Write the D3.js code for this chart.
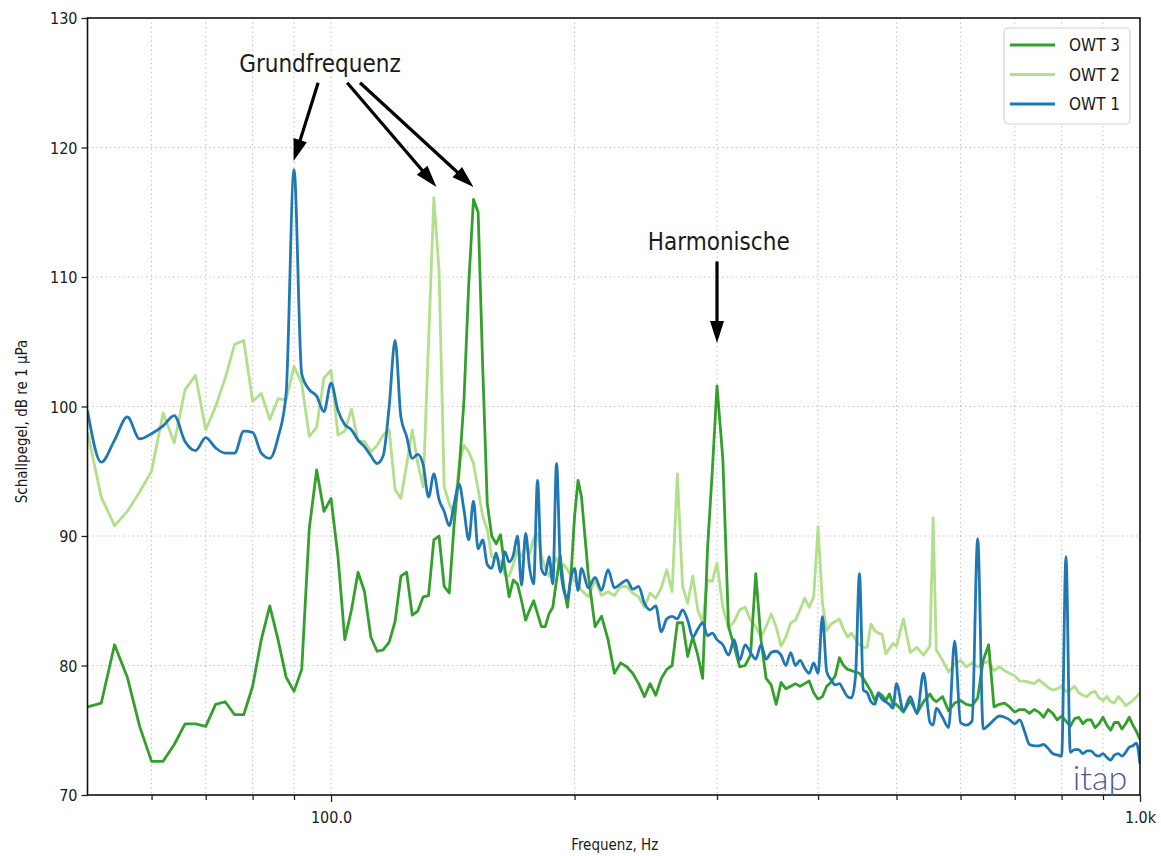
<!DOCTYPE html>
<html><head><meta charset="utf-8">
<script src="https://cdn.jsdelivr.net/npm/d3@7/dist/d3.min.js"></script>
<style>
body{margin:0;background:#fff;}
svg text{font-family:"DejaVu Sans","Liberation Sans",sans-serif;font-stretch:condensed;fill:#1a1a1a;}
</style></head><body>
<svg id="chart" width="1161" height="856"></svg>
<script>
// ---------- data ----------
const frequencies = [
  50,52,54,56,58,60,62,64,66,68,70,72,74,76,78,80,82,84,86,88,90,92,94,96,98,100,102,104,106,108,
  110,112,114,116,118,120,122,124,126,128,130,132,134,136,138,140,142,144,146,148,150,152,154,156,158,
  160,162,164,166,168,170,172,174,176,178,180,182,184,186,188,190,192,194,196,198,200,202,204,
  208,212,216,220,224,228,232,236,240,244,248,252,256,260,264,268,272,276,280,284,288,292,296,300,
  305,310,315,320,325,330,335,340,345,350,355,360,365,370,375,380,385,390,395,400,
  405,410,415,420,425,430,435,440,445,450,455,460,465,470,475,480,485,490,495,500,
  510,520,530,540,550,555,560,570,580,590,600,610,620,630,640,650,660,670,680,690,700,
  710,720,730,740,750,760,770,780,790,800,810,820,830,840,850,860,870,880,890,900,
  910,920,930,940,950,960,970,980,990,1000
];
const owt3 = [
  76.8,77.1,81.6,79.1,75.3,72.6,72.6,73.9,75.5,75.5,
  75.3,77.0,77.2,76.2,76.2,78.4,82.0,84.6,82.0,79.1,
  78.0,79.7,90.6,95.1,91.9,92.9,88.4,82.0,84.3,87.2,
  85.7,82.2,81.1,81.2,81.8,83.4,86.9,87.2,83.9,84.2,
  85.3,85.4,89.7,90.0,86.1,85.6,91.0,95.0,100.5,109.5,
  116.0,115.0,103.0,92.5,90.0,89.4,90.1,87.5,85.3,86.6,
  86.3,85.0,83.5,84.3,85.0,84.0,83.0,83.0,84.0,84.5,
  86.6,88.5,86.0,84.5,87.0,91.5,94.3,93.0,
  87.0,83.0,83.8,82.0,79.4,80.2,79.9,79.4,78.6,77.6,
  78.6,77.7,79.0,79.7,80.0,83.3,83.3,80.7,82.2,80.8,
  79.0,89.0,95.0,101.6,
  96.0,83.0,81.5,79.9,80.0,80.8,87.1,82.0,79.0,78.5,
  77.0,78.7,78.2,78.4,78.6,78.4,78.6,78.8,77.9,77.4,
  77.6,78.4,78.7,79.2,80.6,80.0,79.7,79.6,79.5,79.4,
  79.0,78.5,78.0,77.3,77.9,77.7,77.3,77.8,77.0,77.0,
  76.4,77.3,76.3,77.2,77.8,77.4,
  77.2,77.6,76.5,77.1,77.3,77.0,76.9,77.5,80.4,81.6,
  76.8,77.0,77.1,76.8,76.4,76.6,76.6,76.3,76.6,76.4,
  76.0,76.6,76.3,75.8,76.1,75.7,75.3,75.9,76.0,75.5,
  75.8,75.8,75.2,75.5,76.0,75.4,75.0,75.6,75.6,75.1,
  75.5,76.0,75.4,74.9,74.3
];
const owt2 = [
  98.0,93.0,90.8,91.9,93.4,95.0,99.5,97.2,101.3,102.4,
  98.2,100.0,102.2,104.8,105.1,100.4,101.0,99.0,100.6,100.5,
  103.1,101.8,97.7,98.4,102.2,102.8,97.8,98.1,99.8,97.3,
  97.3,96.5,97.0,97.8,98.2,93.6,92.9,95.5,98.2,95.6,
  93.8,105.0,116.1,110.5,93.8,92.5,91.6,95.6,97.0,96.5,
  95.6,93.6,91.5,90.5,88.4,88.3,88.0,87.0,86.9,87.8,
  88.9,88.4,89.2,88.6,89.8,90.2,88.5,87.5,86.9,87.8,
  88.3,87.5,87.8,87.4,86.9,86.5,86.3,85.8,
  85.3,86.6,85.4,85.7,85.4,86.1,86.1,85.6,85.3,84.5,
  85.6,85.2,86.0,87.4,85.7,94.8,86.1,84.8,86.9,84.3,
  83.3,86.6,86.5,87.9,
  84.5,82.9,83.4,84.3,84.5,83.5,83.0,82.2,83.0,84.0,
  83.0,81.5,82.2,83.3,83.5,84.3,85.2,84.5,85.3,90.7,
  84.8,82.7,83.2,83.4,83.6,82.8,82.2,82.5,82.0,81.6,
  81.4,81.4,83.2,82.7,82.5,82.4,80.9,81.3,81.7,81.5,
  83.6,81.0,81.4,80.8,81.5,91.4,
  81.2,80.4,79.5,80.1,80.4,79.9,80.2,79.9,80.2,80.3,
  79.6,79.9,79.6,79.4,79.2,78.8,78.8,78.7,78.6,78.9,
  78.6,78.3,78.1,78.2,78.4,78.0,78.1,78.4,77.9,77.7,
  77.6,77.9,78.0,77.5,77.3,77.6,77.2,77.1,77.6,77.3,
  76.9,77.1,77.3,77.6,77.9
];
const owt1 = [
  99.7,95.7,97.4,99.2,97.5,97.9,98.5,99.3,97.3,96.6,
  97.6,96.8,96.4,96.4,98.1,98.0,96.4,96.0,97.6,101.0,
  118.3,102.5,101.3,100.8,99.6,101.8,99.7,98.6,98.2,97.4,
  96.9,96.2,95.6,96.2,100.0,105.1,99.2,97.7,96.0,96.3,
  95.5,93.0,94.8,92.8,91.9,90.8,92.5,94.0,92.0,89.7,
  92.7,89.0,89.7,87.8,87.5,88.7,87.2,88.8,88.0,88.5,
  90.0,86.2,90.2,87.5,86.3,94.3,87.5,87.0,88.4,86.3,
  95.6,88.0,85.8,85.2,86.8,87.5,85.8,87.5,
  86.0,86.8,85.8,87.4,86.0,86.3,86.6,85.9,86.1,84.8,
  84.3,84.6,82.6,83.6,83.8,83.6,84.3,83.5,82.2,82.8,
  83.3,82.3,82.5,82.0,
  81.6,80.8,82.0,80.4,81.6,81.0,80.5,81.6,80.5,81.0,
  81.1,80.8,80.0,81.0,80.0,80.4,79.8,79.4,80.2,79.4,
  83.8,79.5,78.9,78.5,78.6,78.1,77.6,77.5,79.2,87.1,
  78.1,77.9,77.2,77.0,77.8,77.4,77.2,77.0,76.7,78.6,
  76.5,77.6,76.3,79.4,75.6,75.4,
  76.7,76.0,75.2,81.9,75.6,75.4,75.7,89.8,75.1,75.4,
  75.8,76.1,76.0,75.8,75.5,75.8,74.9,73.9,73.8,73.8,
  73.9,73.6,73.2,73.1,73.0,88.4,73.3,73.5,73.5,73.2,
  73.4,73.4,73.1,73.0,73.2,72.9,72.7,73.1,73.2,73.0,
  73.3,73.7,73.8,74.0,72.4
];
const seriesNames = ["OWT 3", "OWT 2", "OWT 1"];
const seriesColors = ["#33a02c", "#b2df8a", "#1f78b4"];
const yTicks = [70, 80, 90, 100, 110, 120, 130];
const xMajorTicks = [100, 1000];
const xMajorLabels = ["100.0", "1.0k"];
const xMinorTicks = [60, 70, 80, 90, 200, 300, 400, 500, 600, 700, 800, 900];
// annotations in data coordinates [Hz, dB]
const annotationTexts = [
  {text: "Grundfrequenz", f: 96.9, db: 125.85},
  {text: "Harmonische", f: 301.5, db: 112.1}
];
const annotationArrows = [
  {from: [96.4, 125.0], to: [89.9, 118.95]},
  {from: [104.7, 125.0], to: [135.0, 116.95]},
  {from: [108.6, 125.0], to: [150.0, 116.95]},
  {from: [300.0, 111.2], to: [300.0, 104.9]}
];

// ---------- chart ----------
const svg = d3.select("#chart");
const m = {left: 87.5, right: 1140, top: 18, bottom: 795};
const x = d3.scaleLog().domain([50, 1000]).range([m.left, m.right]);
const y = d3.scaleLinear().domain([70, 130]).range([m.bottom, m.top]);

svg.append("rect").attr("width", 1161).attr("height", 856).attr("fill", "#fff");

// grid
const grid = svg.append("g");
grid.selectAll("line.v").data(xMinorTicks.concat([100])).join("line")
  .attr("x1", d => x(d)).attr("x2", d => x(d)).attr("y1", m.top).attr("y2", m.bottom)
  .attr("stroke", "#bdbdbd").attr("stroke-width", 1.1).attr("stroke-dasharray", "1.3,3.2");
grid.selectAll("line.h").data(yTicks.slice(1, -1)).join("line")
  .attr("x1", m.left).attr("x2", m.right).attr("y1", d => y(d)).attr("y2", d => y(d))
  .attr("stroke", "#bdbdbd").attr("stroke-width", 1.1).attr("stroke-dasharray", "1.3,3.2");

// lines
svg.append("clipPath").attr("id", "clip").append("rect")
  .attr("x", m.left).attr("y", m.top).attr("width", m.right - m.left).attr("height", m.bottom - m.top);
const seriesData = [owt3, owt2, owt1];
const seriesCurves = [d3.curveLinear, d3.curveLinear, d3.curveMonotoneX];
const drawOrder = [1, 0, 2];
const lines = svg.append("g").attr("clip-path", "url(#clip)");
drawOrder.forEach(i => {
  const pts = frequencies.map((f, k) => ({f: f, v: seriesData[i][k]}));
  const line = d3.line().x(d => x(d.f)).y(d => y(d.v)).curve(seriesCurves[i]);
  lines.append("path").datum(pts).attr("d", line)
    .attr("fill", "none").attr("stroke", seriesColors[i])
    .attr("stroke-width", 2.8).attr("stroke-linejoin", "round");
});

// axes
const yAxis = svg.append("g").attr("transform", `translate(${m.left},0)`)
  .call(d3.axisLeft(y).tickValues(yTicks).tickFormat(d3.format("d")).tickSize(6).tickSizeOuter(0));
const xMinorAxis = svg.append("g").attr("transform", `translate(0,${m.bottom})`)
  .call(d3.axisBottom(x).tickValues(xMinorTicks).tickFormat("").tickSize(5).tickSizeOuter(0));
const xMajorAxis = svg.append("g").attr("transform", `translate(0,${m.bottom})`)
  .call(d3.axisBottom(x).tickValues(xMajorTicks).tickFormat((d, i) => xMajorLabels[i]).tickSize(7).tickSizeOuter(0));
[yAxis, xMinorAxis, xMajorAxis].forEach(a => {
  a.select(".domain").remove();
  a.selectAll(".tick line").attr("stroke", "#222").attr("stroke-width", 1.3);
  a.selectAll(".tick text").attr("font-size", 16).attr("fill", "#222");
});
yAxis.selectAll(".tick text").attr("x", -10).attr("dy", "0.35em");
xMajorAxis.selectAll(".tick text").attr("y", 17);

// frame
svg.append("rect").attr("x", m.left).attr("y", m.top)
  .attr("width", m.right - m.left).attr("height", m.bottom - m.top)
  .attr("fill", "none").attr("stroke", "#111").attr("stroke-width", 1.6);

// axis labels
svg.append("text").attr("x", (m.left + m.right) / 2 + 1).attr("y", 850)
  .attr("text-anchor", "middle").attr("font-size", 15).text("Frequenz, Hz");
svg.append("text").attr("transform", `translate(27,${(m.top + m.bottom) / 2 + 15}) rotate(-90)`)
  .attr("text-anchor", "middle").attr("font-size", 15).text("Schallpegel, dB re 1 µPa");

// annotations
const ann = svg.append("g");
annotationTexts.forEach(a => {
  ann.append("text").attr("x", x(a.f)).attr("y", y(a.db))
    .attr("text-anchor", "middle").attr("font-size", 24).attr("fill", "#111").text(a.text);
});
annotationArrows.forEach(a => {
  const x1 = x(a.from[0]), y1 = y(a.from[1]), x2 = x(a.to[0]), y2 = y(a.to[1]);
  const dx = x2 - x1, dy = y2 - y1, L = Math.hypot(dx, dy);
  const ux = dx / L, uy = dy / L, hl = 22, hw = 7;
  const bx = x2 - ux * hl, by = y2 - uy * hl;
  ann.append("line").attr("x1", x1).attr("y1", y1).attr("x2", bx + ux * 2).attr("y2", by + uy * 2)
    .attr("stroke", "#000").attr("stroke-width", 3.2);
  ann.append("polygon")
    .attr("points", [[x2, y2], [bx - uy * hw, by + ux * hw], [bx + uy * hw, by - ux * hw]].map(p => p.join(",")).join(" "))
    .attr("fill", "#000");
});

// legend
const lg = svg.append("g");
lg.append("rect").attr("x", 1004).attr("y", 28).attr("width", 126).attr("height", 96).attr("rx", 4)
  .attr("fill", "#fff").attr("stroke", "#d4d4d4").attr("stroke-width", 1.2);
seriesNames.forEach((n, i) => {
  const yy = 45 + i * 29.5;
  lg.append("line").attr("x1", 1010).attr("x2", 1055).attr("y1", yy).attr("y2", yy)
    .attr("stroke", seriesColors[i]).attr("stroke-width", 2.8);
  lg.append("text").attr("x", 1069).attr("y", yy + 6).attr("font-size", 17).text(n);
});

// logo
svg.append("text").attr("x", 1100).attr("y", 790).attr("text-anchor", "middle")
  .attr("font-size", 34).attr("font-weight", 300)
  .style("font-family", "Lato, 'Open Sans', sans-serif").style("font-stretch", "normal")
  .style("fill", "#4a58a0").text("itap");
</script>
</body></html>
